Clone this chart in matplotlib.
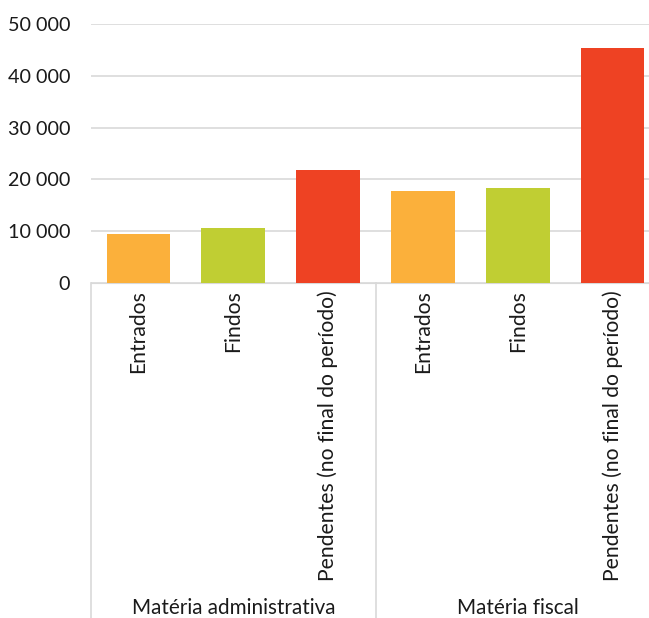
import matplotlib
matplotlib.use("Agg")
import matplotlib.pyplot as plt
from matplotlib.ticker import FuncFormatter

groups = ["Matéria administrativa", "Matéria fiscal"]
categories = ["Entrados", "Findos", "Pendentes (no final do período)"]
adm_values = [9500, 10550, 21750]
fiscal_values = [17700, 18350, 45350]
bar_colors = ["#FBB03B", "#C0CE33", "#EE4223"]

plt.rcParams['font.family'] = ['Lato', 'DejaVu Sans']

fig = plt.figure(figsize=(6.49, 6.18), dpi=100)
# axes runs a bit past the right edge, like the cropped original
ax = fig.add_axes([91/649, 1-283/618, 569/649, 259/618])

values = adm_values + fiscal_values
labels = categories + categories
x = list(range(len(values)))
ax.bar(x, values, width=0.67, color=bar_colors * 2, zorder=3)

ax.set_xlim(-0.5, len(values) - 0.5)
ax.set_ylim(0, 50000)
ax.set_yticks(range(0, 50001, 10000))
ax.yaxis.set_major_formatter(FuncFormatter(lambda v, p: f"{int(v):,}".replace(",", " ")))
ax.grid(axis='y', color='#D9D9D9', linewidth=1.2, zorder=0)
for s in ['top', 'right', 'left']:
    ax.spines[s].set_visible(False)
ax.spines['bottom'].set_color('#D9D9D9')
ax.tick_params(axis='y', length=0, pad=15, labelsize=14.2, labelcolor='#1a1a1a')
ax.set_xticks([])

# category labels and group separators below the axis
for i, lab in enumerate(labels):
    ax.annotate(lab, xy=(i, 0), xycoords='data', xytext=(0, -5), textcoords='offset points',
                rotation=90, ha='center', va='top', fontsize=15.2, color='#1a1a1a')
for j, g in enumerate(groups):
    ax.annotate(g, xy=(j * 3 + 1, 0), xycoords='data', xytext=(0, -234), textcoords='offset points',
                ha='center', va='center', fontsize=14.9, color='#1a1a1a')
for xs in [-0.5, 2.5, 5.5]:
    ax.plot([xs, xs], [0, -65000], color='#D9D9D9', linewidth=1.2, clip_on=False)

fig.savefig("out.png", dpi=100)
